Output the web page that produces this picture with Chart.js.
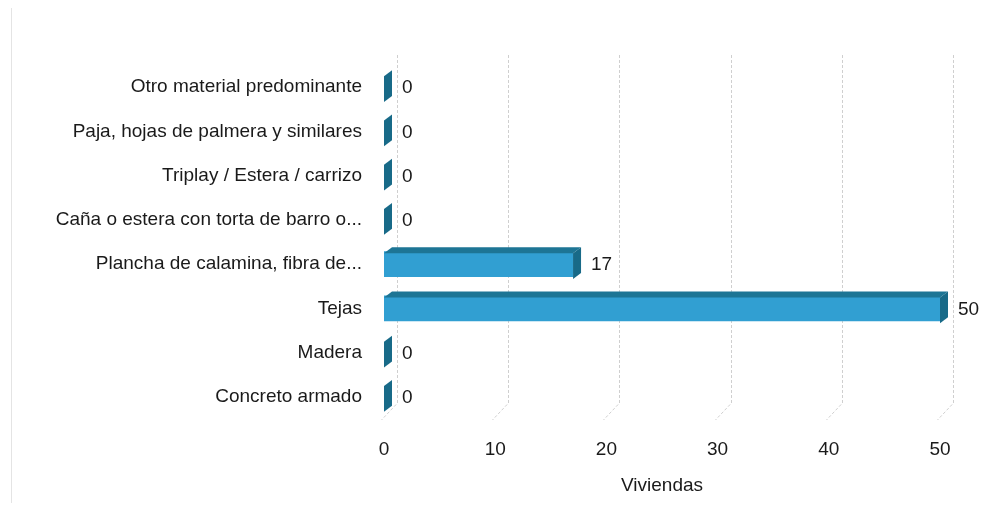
<!DOCTYPE html>
<html>
<head>
<meta charset="utf-8">
<script src="https://cdn.jsdelivr.net/npm/chart.js@4"></script>
<style>
  html, body { margin: 0; padding: 0; background: #fff; }
  #wrap { position: relative; width: 990px; height: 509px; }
  #edge { position: absolute; left: 11px; top: 8px; width: 1px; height: 495px; background: #e4e4e4; }
</style>
</head>
<body>
<div id="wrap">
  <div id="edge"></div>
  <canvas id="chart" width="990" height="509"></canvas>
</div>
<script>
const categories = [
    "Otro material predominante",
    "Paja, hojas de palmera y similares",
    "Triplay / Estera / carrizo",
    "Caña o estera con torta de barro o...",
    "Plancha de calamina, fibra de...",
    "Tejas",
    "Madera",
    "Concreto armado"
];
const viviendas = [0, 0, 0, 0, 17, 50, 0, 0];
const xTicks = [0, 10, 20, 30, 40, 50];

const FONT = "'Liberation Sans', Arial, sans-serif";
const TXT = "#1a1a1a";
const FRONT = "#319fd2";
const TOP = "#1d7595";
const SIDE = "#186a88";
const DX = 8, DY = 6;

// lineas de grilla con efecto 3D (pared del fondo + piso)
const grid3d = {
    id: "grid3d",
    beforeDatasetsDraw(chart) {
        const ctx = chart.ctx;
        const x = chart.scales.x;
        const area = chart.chartArea;
        ctx.save();
        ctx.strokeStyle = "#cfcfcf";
        ctx.lineWidth = 1;
        ctx.setLineDash([3, 2]);
        xTicks.forEach(v => {
            const px = Math.round(x.getPixelForValue(v)) + 13.5;
            ctx.beginPath();
            ctx.moveTo(px, area.top - 10);
            ctx.lineTo(px, area.bottom - 16);
            ctx.lineTo(px - 16, area.bottom + 1);
            ctx.stroke();
        });
        ctx.restore();
    }
};

// caras superior y lateral de cada barra + etiquetas de valor
const bars3d = {
    id: "bars3d",
    afterDatasetsDraw(chart) {
        const ctx = chart.ctx;
        const meta = chart.getDatasetMeta(0);
        ctx.save();
        meta.data.forEach((bar, i) => {
            const x0 = bar.base, x1 = bar.x;
            const yt = bar.y - bar.height / 2 + 2, yb = bar.y + bar.height / 2 + 2;
            if (x1 > x0 + 1) {
                ctx.fillStyle = TOP;
                ctx.beginPath();
                ctx.moveTo(x0, yt);
                ctx.lineTo(x0 + DX, yt - DY);
                ctx.lineTo(x1 + DX, yt - DY);
                ctx.lineTo(x1, yt);
                ctx.closePath();
                ctx.fill();
            }
            ctx.fillStyle = SIDE;
            ctx.beginPath();
            ctx.moveTo(x1, yt);
            ctx.lineTo(x1 + DX, yt - DY);
            ctx.lineTo(x1 + DX, yb - DY);
            ctx.lineTo(x1, yb);
            ctx.closePath();
            ctx.fill();

            ctx.fillStyle = TXT;
            ctx.font = "19px " + FONT;
            ctx.textAlign = "left";
            ctx.textBaseline = "middle";
            ctx.fillText(String(viviendas[i]), x1 + DX + 10, bar.y + 1);
        });
        ctx.restore();
    }
};

new Chart(document.getElementById("chart"), {
    type: "bar",
    data: {
        labels: categories,
        datasets: [{
            label: "Viviendas",
            data: viviendas,
            backgroundColor: FRONT,
            borderWidth: 0,
            barPercentage: 0.58,
            categoryPercentage: 1
        }]
    },
    options: {
        indexAxis: "y",
        responsive: false,
        animation: false,
        layout: { padding: { top: 65, right: 50, left: 0, bottom: 0 } },
        plugins: {
            legend: { display: false },
            tooltip: { enabled: false }
        },
        scales: {
            x: {
                min: 0,
                max: 50,
                afterFit: s => { s.height = 90; },
                afterBuildTicks: s => { s.ticks = xTicks.map(v => ({ value: v })); },
                grid: { display: false, drawTicks: false },
                border: { display: false },
                ticks: { color: TXT, padding: 19, font: { family: FONT, size: 19 } },
                title: {
                    display: true,
                    text: "Viviendas",
                    color: TXT,
                    padding: { top: 4, bottom: 12 },
                    font: { family: FONT, size: 19 }
                }
            },
            y: {
                afterFit: s => { s.width = 384; },
                grid: { display: false, drawTicks: false },
                border: { display: false },
                ticks: { color: TXT, padding: 22, font: { family: FONT, size: 19 } }
            }
        }
    },
    plugins: [grid3d, bars3d]
});
</script>
</body>
</html>
